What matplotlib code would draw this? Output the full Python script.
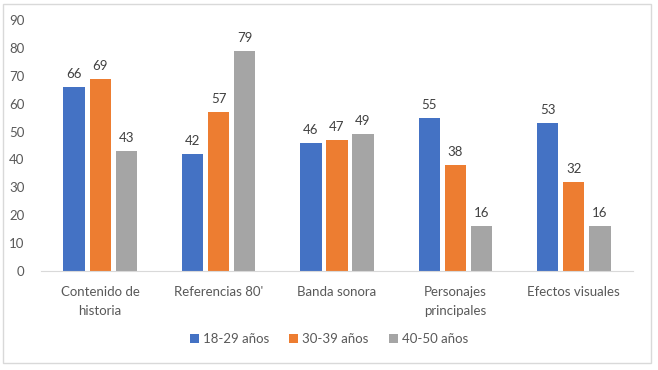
import matplotlib.pyplot as plt
import numpy as np
from matplotlib.patches import Rectangle

categories = ["Contenido de\nhistoria", "Referencias 80'", "Banda sonora", "Personajes\nprincipales", "Efectos visuales"]
series_names = ["18-29 años", "30-39 años", "40-50 años"]
s1 = [66, 42, 46, 55, 53]
s2 = [69, 57, 47, 38, 32]
s3 = [43, 79, 49, 16, 16]
colors = ["#4472C4", "#ED7D31", "#A5A5A5"]

plt.rcParams['font.family'] = ['Lato', 'DejaVu Sans']
txt = "#595959"

fig = plt.figure(figsize=(6.58, 3.70), dpi=100)
ax = fig.add_axes([41/658, 1-271/370, 592/658, 251/370])

x = np.arange(len(categories))
w = 0.18
off = 0.22
for i, (vals, name, c) in enumerate(zip([s1, s2, s3], series_names, colors)):
    pos = x + (i - 1) * off
    bars = ax.bar(pos, vals, width=w, color=c, label=name)
    for p, v in zip(pos, vals):
        ax.annotate(str(v), (p, v), xytext=(0, 5), textcoords="offset points",
                    ha="center", va="bottom", fontsize=9.5, color="#404040")

ax.set_xlim(-0.5, len(categories) - 0.5)
ax.set_ylim(0, 90)
ax.set_yticks(range(0, 91, 10))
ax.set_xticks(x)
ax.set_xticklabels(categories, fontsize=9.5, color=txt, linespacing=1.65)
ax.tick_params(axis='y', labelsize=9.5, colors=txt, length=0, pad=12)
ax.tick_params(axis='x', length=0, pad=11)
for s in ["top", "right", "left"]:
    ax.spines[s].set_visible(False)
ax.spines["bottom"].set_color("#D9D9D9")

leg = fig.legend(loc="center", bbox_to_anchor=(329/658, 1-339/370), ncol=3, frameon=False,
                 fontsize=9.5, handlelength=0.7, handleheight=0.7, handletextpad=0.3,
                 columnspacing=1.5)
for t in leg.get_texts():
    t.set_color(txt)

fig.patches.append(Rectangle((3/658, 1-363/370), 648/658, 359/370, transform=fig.transFigure,
                             fill=False, edgecolor="#D9D9D9", linewidth=1))

fig.savefig("out.png", dpi=100)
